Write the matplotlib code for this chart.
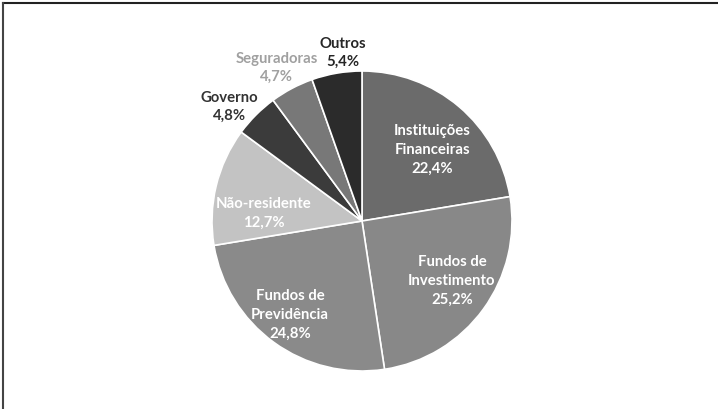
import numpy as np
import matplotlib

matplotlib.use("Agg")
import matplotlib.pyplot as plt
from matplotlib.lines import Line2D

plt.rcParams["font.family"] = ["Lato", "DejaVu Sans"]

labels = [
    "Instituições\nFinanceiras",
    "Fundos de\nInvestimento",
    "Fundos de\nPrevidência",
    "Não-residente",
    "Governo",
    "Seguradoras",
    "Outros",
]
values = [22.4, 25.2, 24.8, 12.7, 4.8, 4.7, 5.4]

COLORS = ["#6b6b6b", "#888888", "#8a8a8a", "#c3c3c3", "#3b3b3b", "#787878", "#2b2b2b"]
TEXT_COLORS = ["white", "white", "white", "white", "#333333", "#a0a0a0", "#262626"]
# (radial distance, angle shift in degrees) for each label
LABEL_POS = [(0.67, -3.9), (0.717, 2.8), (0.784, -1.7), (0.656, 8.3), (1.172, 4.1), (1.173, 1.0), (1.134, -3.3)]

W, H = 718, 410
CX, CY, R = 362, 222, 150

fig = plt.figure(figsize=(W / 100, H / 100), dpi=100)
ax = fig.add_axes([(CX - R) / W, (H - CY - R) / H, 2 * R / W, 2 * R / H])

wedges, _ = ax.pie(
    values,
    colors=COLORS,
    startangle=90,
    counterclock=False,
    radius=1,
    wedgeprops=dict(edgecolor="white", linewidth=1.2),
)
ax.set_xlim(-1, 1)
ax.set_ylim(-1, 1)
ax.set_aspect("equal")

for w, lab, v, tc, (r, dt) in zip(wedges, labels, values, TEXT_COLORS, LABEL_POS):
    mid = np.deg2rad((w.theta1 + w.theta2) / 2 + dt)
    txt = f"{lab}\n{v:.1f}%".replace(".", ",")
    ax.text(
        r * np.cos(mid),
        r * np.sin(mid),
        txt,
        ha="center",
        va="center",
        fontsize=10.7,
        fontweight="bold",
        color=tc,
        linespacing=1.42,
        clip_on=False,
    )

# scan frame: top and left edges only
fig.add_artist(Line2D([2.5 / W, 1], [1 - 4 / H, 1 - 4 / H], color="#222222", lw=1.5, transform=fig.transFigure))
fig.add_artist(Line2D([2.5 / W, 2.5 / W], [0, 1 - 4 / H], color="#444444", lw=1.5, transform=fig.transFigure))

fig.savefig("out.png", dpi=100)
